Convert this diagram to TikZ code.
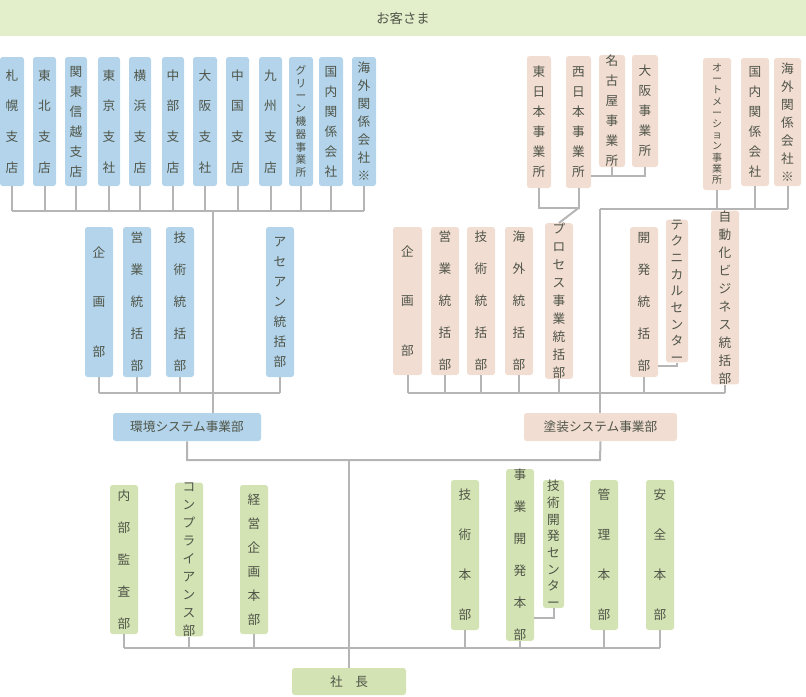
\documentclass[tikz,border=0pt]{standalone}
\usepackage{fontspec}
\newfontfamily\cjk{Noto Sans CJK JP}
\definecolor{cb}{HTML}{B3D4EA}
\definecolor{cp}{HTML}{F2DDD2}
\definecolor{cg}{HTML}{D3E3B3}
\definecolor{cban}{HTML}{E3EECB}
\definecolor{ct}{HTML}{4F5448}
\definecolor{cl}{HTML}{B5B5B5}
\newcommand\bx[8]{\node[#2,minimum width={(#5-#3)*0.75pt},minimum height={(#6-#4)*0.75pt},font=\cjk\fontsize{9.5pt}{#7}\selectfont] (#1) at ({(#3+#5)/2},{(#4+#6)/2}) {#8};}
\begin{document}
\begin{tikzpicture}[x=0.75pt,y=-0.75pt,
  box/.style={rounded corners=2pt,inner sep=0pt,align=center,text=ct},
  bb/.style={box,fill=cb},pb/.style={box,fill=cp},gb/.style={box,fill=cg},
  ln/.style={draw=cl,line width=1.5pt}]
\useasboundingbox (0,0) rectangle (806,696);
\node[fill=cban,minimum width=604.5pt,minimum height=27pt,inner sep=0pt,text=ct,font=\cjk\fontsize{10pt}{12pt}\selectfont] (cust) at (403,18) {お客さま};
% top-left branches
\bx{a1}{bb}{0}{57}{24}{186}{23pt}{札\\幌\\支\\店}
\bx{a2}{bb}{33}{57}{56}{186}{23pt}{東\\北\\支\\店}
\bx{a3}{bb}{65}{57}{87}{186}{15pt}{関\\東\\信\\越\\支\\店}
\bx{a4}{bb}{98}{57}{120}{186}{23pt}{東\\京\\支\\社}
\bx{a5}{bb}{129}{57}{151}{186}{23pt}{横\\浜\\支\\店}
\bx{a6}{bb}{162}{57}{184}{186}{23pt}{中\\部\\支\\店}
\bx{a7}{bb}{193}{57}{217}{186}{23pt}{大\\阪\\支\\社}
\bx{a8}{bb}{226}{57}{249}{186}{23pt}{中\\国\\支\\店}
\bx{a9}{bb}{259}{57}{282}{186}{23pt}{九\\州\\支\\店}
\node[bb,minimum width=18pt,minimum height=96.75pt,font=\cjk\fontsize{8pt}{9.6pt}\selectfont] (a10) at (301,121.5) {グ\\リ\\ー\\ン\\機\\器\\事\\業\\所};
\bx{a11}{bb}{319}{57}{343}{186}{15pt}{国\\内\\関\\係\\会\\社}
\bx{a12}{bb}{352}{57}{376}{186}{13.5pt}{海\\外\\関\\係\\会\\社\\※}
\coordinate (busA) at (0,211);
\foreach \n in {a1,a2,a3,a4,a5,a6,a7,a8,a9,a10,a11,a12} \draw[ln] (\n.south) -- (\n.south |- busA);
\draw[ln] (a1.south |- busA) -- (a12.south |- busA);
% second row left
\bx{b1}{bb}{85}{227}{113}{377}{37pt}{企\\画\\部}
\bx{b2}{bb}{123}{227}{151}{377}{24pt}{営\\業\\統\\括\\部}
\bx{b3}{bb}{166}{227}{194}{377}{24pt}{技\\術\\統\\括\\部}
\bx{b4}{bb}{266}{227}{294}{377}{15pt}{ア\\セ\\ア\\ン\\統\\括\\部}
\bx{env}{bb}{113}{413}{261}{441}{12pt}{環境システム事業部}
\coordinate (busB) at (0,393);
\foreach \n in {b1,b2,b3,b4} \draw[ln] (\n.south) -- (\n.south |- busB);
\draw[ln] (b1.south |- busB) -- (b4.south |- busB);
\coordinate (vA) at (213,211);
\draw[ln] (vA) -- (vA |- env.north);
% top-right
\bx{c1}{pb}{527}{56}{551}{188}{15pt}{東\\日\\本\\事\\業\\所}
\bx{c2}{pb}{566}{56}{591}{188}{15pt}{西\\日\\本\\事\\業\\所}
\bx{c3}{pb}{599}{55}{625}{167}{15pt}{名\\古\\屋\\事\\業\\所}
\bx{c4}{pb}{632}{55}{658}{167}{15pt}{大\\阪\\事\\業\\所}
\node[pb,minimum width=21pt,minimum height=99pt,font=\cjk\fontsize{7.5pt}{8.4pt}\selectfont] (c5) at (717,124) {オ\\ー\\ト\\メ\\ー\\シ\\ョ\\ン\\事\\業\\所};
\bx{c6}{pb}{741}{58}{769}{186}{15pt}{国\\内\\関\\係\\会\\社}
\bx{c7}{pb}{774}{58}{801}{186}{13.5pt}{海\\外\\関\\係\\会\\社\\※}
\coordinate (busC) at (0,176);
\draw[ln] (c3.south) -- (c3.south |- busC);
\draw[ln] (c4.south) -- (c4.south |- busC) -- (c2.east |- busC);
\coordinate (busD) at (0,208);
\draw[ln] (c1.south) -- (c1.south |- busD) -- (c2.south |- busD) -- (c2.south);
\coordinate (busE) at (0,209);
\foreach \n in {c5,c6,c7} \draw[ln] (\n.south) -- (\n.south |- busE);
\coordinate (vB) at (600,209);
\draw[ln] (vB) -- (c7.south |- busE);
% second row right
\bx{d1}{pb}{393}{227}{422}{375}{37pt}{企\\画\\部}
\bx{d2}{pb}{431}{227}{459}{375}{24pt}{営\\業\\統\\括\\部}
\bx{d3}{pb}{467}{227}{495}{375}{24pt}{技\\術\\統\\括\\部}
\bx{d4}{pb}{505}{227}{533}{375}{24pt}{海\\外\\統\\括\\部}
\bx{d5}{pb}{545}{227}{573}{375}{13.5pt}{プ\\ロ\\セ\\ス\\事\\業\\統\\括\\部}
\bx{d6}{pb}{630}{227}{658}{377}{24pt}{開\\発\\統\\括\\部}
\bx{d7}{pb}{666}{227}{688}{355}{12.5pt}{テ\\ク\\ニ\\カ\\ル\\セ\\ン\\タ\\ー}
\bx{d8}{pb}{711}{223}{739}{372}{13.5pt}{自\\動\\化\\ビ\\ジ\\ネ\\ス\\統\\括\\部}
\bx{paint}{pb}{524}{413}{677}{441}{12pt}{塗装システム事業部}
\draw[ln] (c2.south |- busD) -- (d5.north);
\coordinate (tcy) at (0,366);
\draw[ln] (d7.south) |- (d6.east |- tcy);
\foreach \n in {d1,d2,d3,d4,d5,d6,d8} \draw[ln] (\n.south) -- (\n.south |- busB);
\draw[ln] (d1.south |- busB) -- (d8.south |- busB);
\draw[ln] (vB) -- (vB |- paint.north);
% lower
\coordinate (busF) at (0,460);
\draw[ln] (env.south) -- (env.south |- busF) -- (vB |- busF) -- (paint.south);
\node[gb,minimum width=85.5pt,minimum height=20.25pt,font=\cjk\fontsize{9.5pt}{12pt}\selectfont] (pres) at (349,681.5) {社\quad 長};
\draw[ln] (pres.north |- busF) -- (pres.north);
\bx{e1}{gb}{110}{485}{138}{634}{24pt}{内\\部\\監\\査\\部}
\bx{e2}{gb}{175}{485}{203}{634}{13.5pt}{コ\\ン\\プ\\ラ\\イ\\ア\\ン\\ス\\部}
\bx{e3}{gb}{240}{485}{268}{634}{18pt}{経\\営\\企\\画\\本\\部}
\bx{e4}{gb}{451}{480}{479}{630}{30pt}{技\\術\\本\\部}
\bx{e5}{gb}{506}{480}{534}{630}{24pt}{事\\業\\開\\発\\本\\部}
\bx{e6}{gb}{543}{480}{564}{608}{12.5pt}{技\\術\\開\\発\\セ\\ン\\タ\\ー}
\bx{e7}{gb}{590}{480}{618}{630}{30pt}{管\\理\\本\\部}
\bx{e8}{gb}{646}{480}{674}{630}{30pt}{安\\全\\本\\部}
\coordinate (busG) at (0,648);
\foreach \n in {e1,e2,e3,e4,e5,e7,e8} \draw[ln] (\n.south) -- (\n.south |- busG);
\draw[ln] (e1.south |- busG) -- (e8.south |- busG);
\coordinate (tdy) at (0,618);
\draw[ln] (e6.south) |- (e5.east |- tdy);
\end{tikzpicture}
\end{document}
